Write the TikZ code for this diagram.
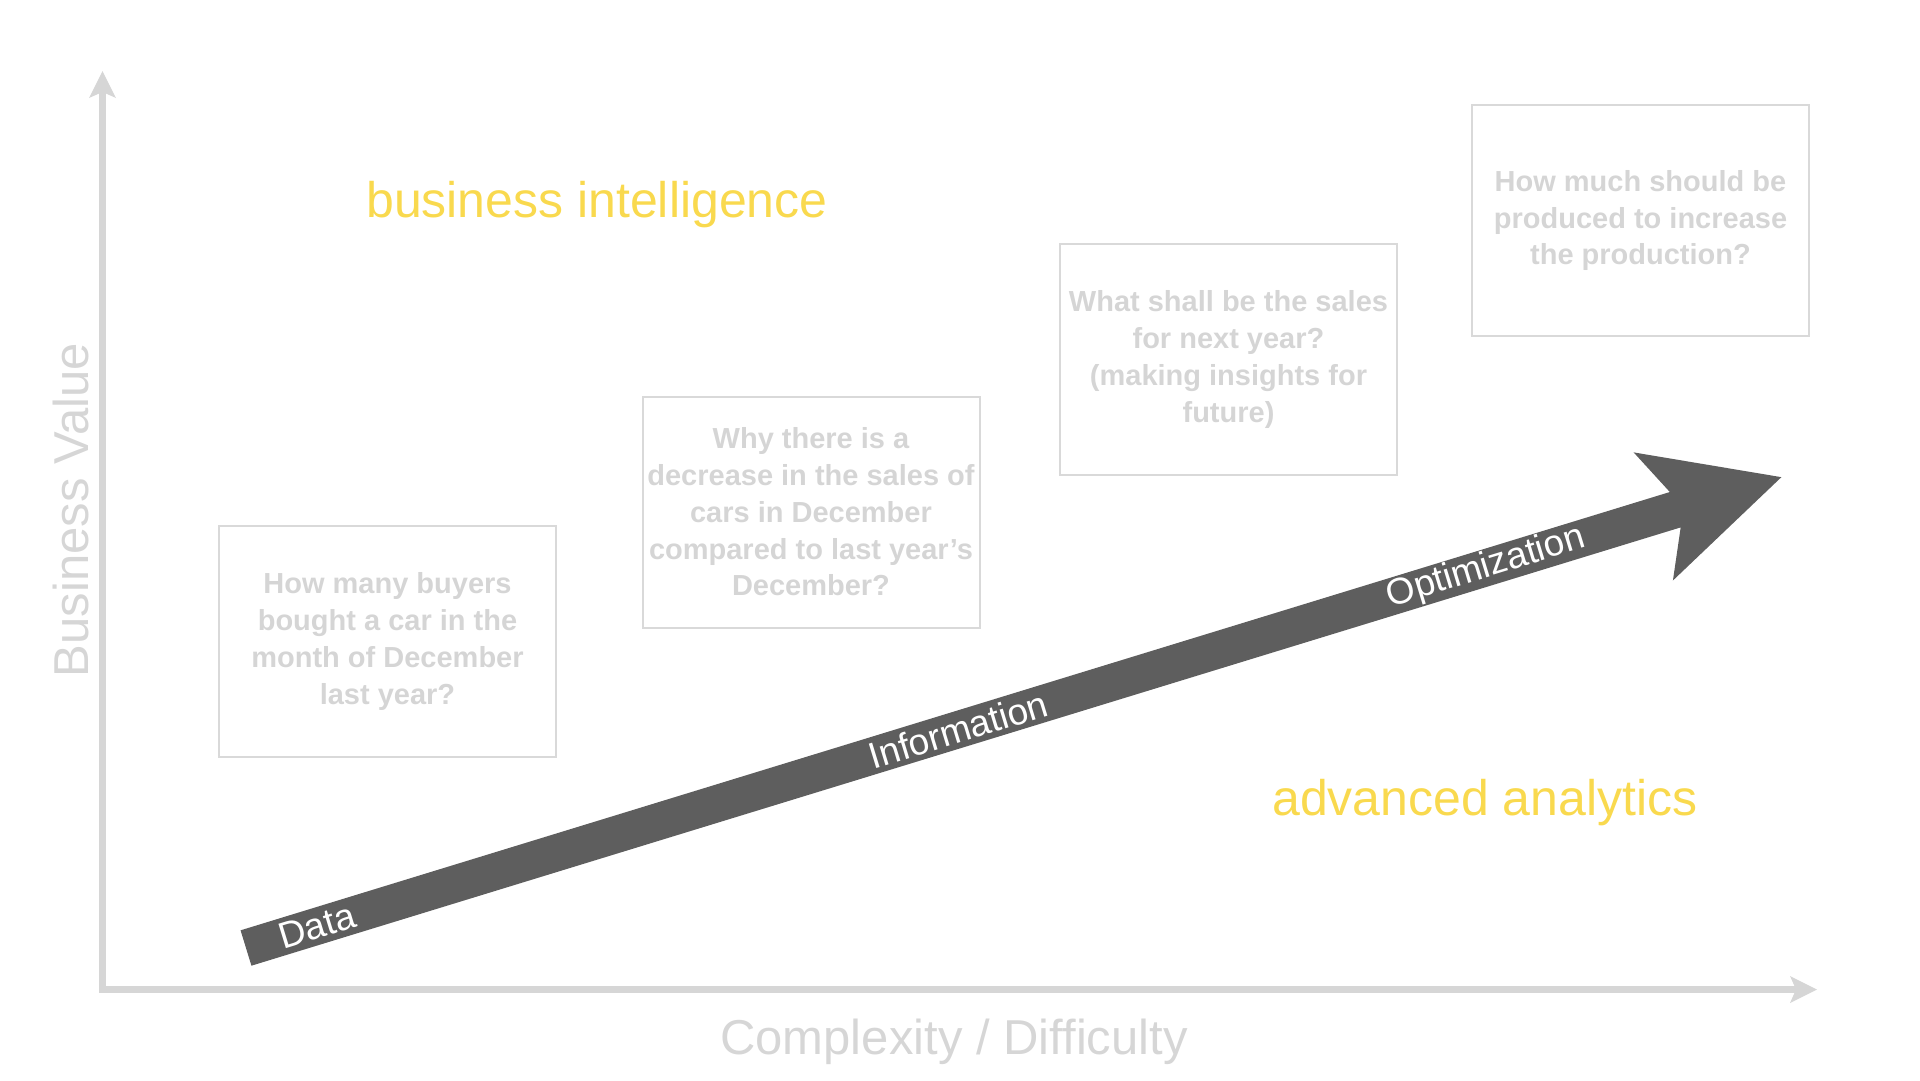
\documentclass[tikz,border=0pt]{standalone}
\usepackage{fontspec}
\setmainfont{Liberation Sans}
\usepackage{xcolor}
\usetikzlibrary{arrows.meta}

\definecolor{axisgray}{HTML}{D6D6D6}
\definecolor{boxgray}{HTML}{D9D9D9}
\definecolor{textgray}{HTML}{D5D5D5}
\definecolor{arrowgray}{HTML}{5E5E5E}
\definecolor{bizyellow}{HTML}{F9D94E}

\tikzset{
    question/.style={rectangle, draw=boxgray, line width=2pt, minimum width=337pt, minimum height=231pt,
        inner sep=0pt, align=center, text=textgray, font=\fontsize{29}{36.8}\selectfont\bfseries,
        execute at begin node={\rule{0pt}{29pt}}},
    area/.style={text=bizyellow, inner sep=0pt, anchor=base west, font=\fontsize{50}{60}\selectfont},
    axislabel/.style={text=axisgray, inner sep=0pt, anchor=base, font=\fontsize{49}{58}\selectfont},
    stage/.style={text=white, inner sep=0pt, transform shape, font=\fontsize{37}{44}\selectfont},
    axistip/.tip={Stealth[length=27pt, width=27pt, inset=6pt, line width=0pt]},
}

\begin{document}
\begin{tikzpicture}[x=1pt, y=-1pt]
            \useasboundingbox (0, 0) rectangle (1920, 1080);

            % axes
            \coordinate (ytop) at (102.5, 71);
            \coordinate (origin) at (102.5, 989.5);
            \coordinate (xend) at (1817, 989.5);
            \draw[axisgray, line width=6.5pt, axistip-axistip] (ytop) -- (origin) -- (xend);

            \node[axislabel] at (954, 1054) (xlab) {Complexity / Difficulty};
            \node[axislabel, rotate=90] at (88, 510) (ylab) {Business Value};

            % areas
            \node[area] at (366, 217) (bi) {business intelligence};
            \node[area] at (1272, 815) (aa) {advanced analytics};

            % questions
            \node[question] at (387.5, 641.5) (q1) {How many buyers\\bought a car in the\\month of December\\last year?};
            \node[question] at (811, 512)     (q2) {Why there is a\\decrease in the sales of\\cars in December\\compared to last year’s\\December?};
            \node[question] at (1228.5, 359.5) (q3) {What shall be the sales\\for next year?\\(making insights for\\future)};
            \node[question] at (1640.5, 220.5) (q4) {How much should be\\produced to increase\\the production?};

            % big arrow
            \begin{scope}[shift={(246, 948)}, rotate=17.05]
                \fill[arrowgray] (0, -18.5) -- (1495, -18.5) -- (1472, -67) -- (1606, 0)
                    -- (1472, 67) -- (1495, 18.5) -- (0, 18.5) -- cycle;
                \node[stage] at (74, 0)   (data) {Data};
                \node[stage] at (745, 0)  (info) {Information};
                \node[stage] at (1297, 0) (opt)  {Optimization};
            \end{scope}
        \end{tikzpicture}
\end{document}
